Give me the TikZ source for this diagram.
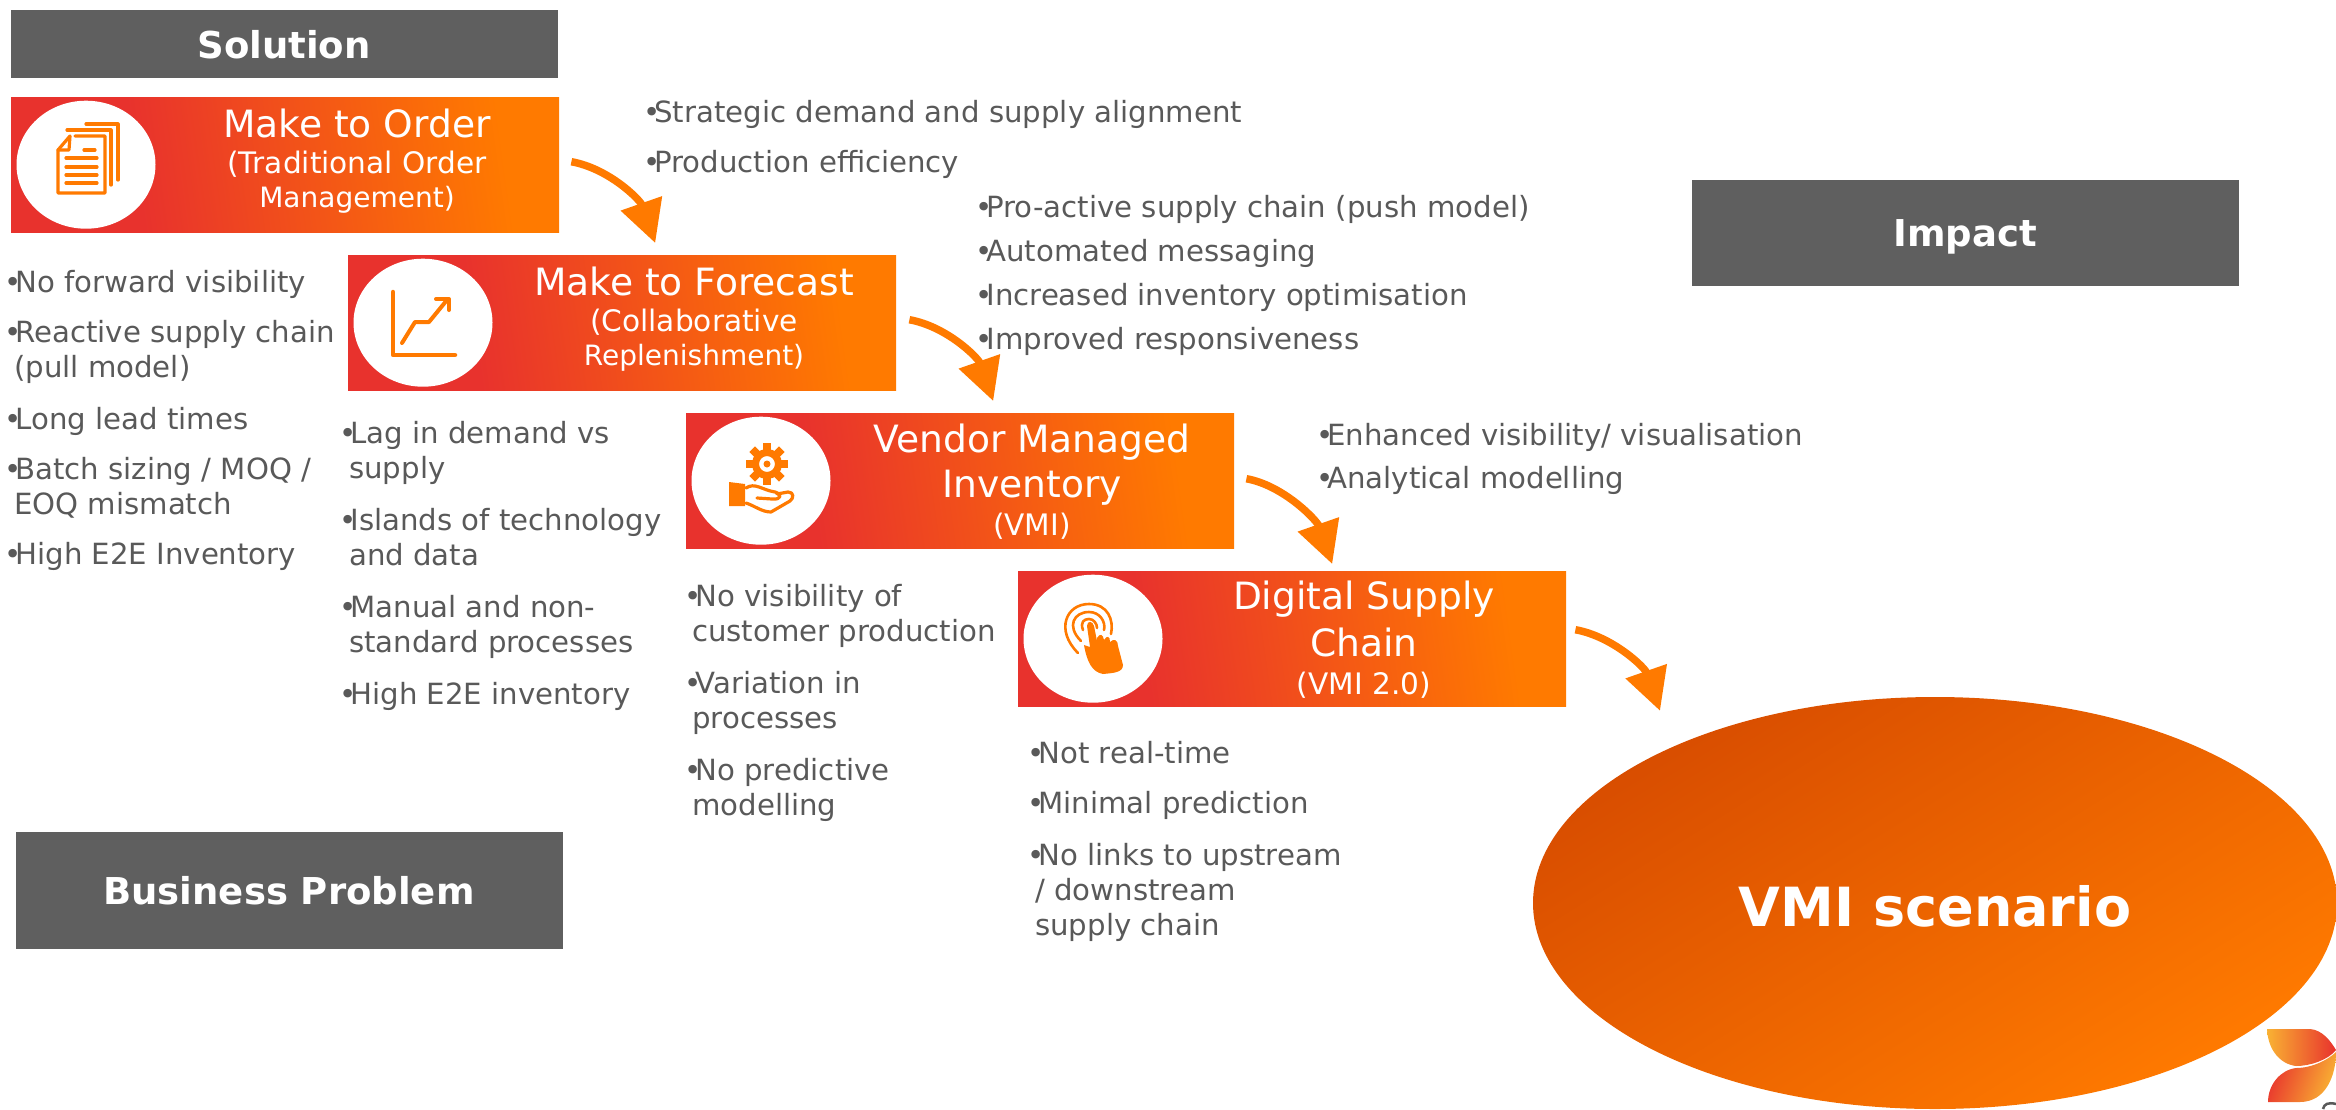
\documentclass[tikz,border=0pt]{standalone}
\usepackage{fontspec}
\setmainfont{DejaVu Sans}
\usetikzlibrary{arrows.meta,shapes.geometric}
\definecolor{vmired}{HTML}{E8322D}
\definecolor{vmiorange}{HTML}{FF7A00}
\definecolor{vmideep}{HTML}{D84D00}
\definecolor{bandgray}{HTML}{5F5F5F}
\definecolor{bodygray}{HTML}{595959}
\definecolor{logoyellow}{HTML}{F9B233}
\pgfdeclarehorizontalshading{stagefade}{100bp}{color(0bp)=(vmired); color(35bp)=(vmired); color(72bp)=(vmiorange); color(100bp)=(vmiorange)}
\newcommand{\bigline}{\fontsize{37.6}{34}\selectfont}
\newcommand{\subline}{\fontsize{29.6}{34}\selectfont}
\newcommand{\itemdot}{•\kern-6pt}
\tikzset{
  bandbox/.style = {shape=rectangle, fill=bandgray, text=white, font=\bfseries\fontsize{37}{44}\selectfont, minimum width=547pt, inner sep=0pt, text depth=0pt},
  stagebox/.style = {shape=rectangle, anchor=north west, shading=stagefade, shading angle=8, minimum width=548pt, minimum height=135pt, inner sep=0pt},
  stageicon/.style = {shape=ellipse, fill=white, minimum width=139pt, minimum height=128pt, inner sep=0pt},
  stagetitle/.style = {align=center, text=white, inner sep=0pt, font=\fontsize{28}{34}\selectfont},
  bulletlist/.style = {anchor=north west, align=left, text=bodygray, inner sep=0pt, font=\fontsize{29.2}{35}\selectfont},
  stagearrow/.style = {draw=vmiorange, line width=7.5pt, -{Triangle[width=42pt,length=42pt]}},
  iconline/.style = {draw=vmiorange, line width=3.2pt, line cap=round, line join=round}
}
\begin{document}
\begin{tikzpicture}[x=1pt,y=-1pt]
\useasboundingbox (0,0) rectangle (2336,1109);
\node[bandbox, minimum height=68pt] (solution) at (284,44) {Solution};
\node[bandbox, minimum height=106pt] (impact) at (1965,233) {Impact};
\node[bandbox, minimum height=117pt] (problem) at (289,890) {Business Problem};

\node[stagebox] (mto) at (11,97) {};
\node[stagebox] (mtf) at (348,255) {};
\node[stagebox] (vmi) at (686,413) {};
\node[stagebox] (dsc) at (1018,571) {};
\node[stageicon] (mtoicon) at ([xshift=75pt]mto.west) {};
\node[stageicon] (mtficon) at ([xshift=75pt]mtf.west) {};
\node[stageicon] (vmiicon) at ([xshift=75pt]vmi.west) {};
\node[stageicon] (dscicon) at ([xshift=75pt]dsc.west) {};
\node[stagetitle] (mtotitle) at ([xshift=346pt,yshift=4pt]mto.west) {\bigline Make to Order\\[2pt]\subline (Traditional Order\\Management)};
\node[stagetitle] (mtftitle) at ([xshift=346pt,yshift=4pt]mtf.west) {\bigline Make to Forecast\\[2pt]\subline (Collaborative\\Replenishment)};
\node[stagetitle] (vmititle) at ([xshift=346pt,yshift=-1pt]vmi.west) {\bigline Vendor Managed\\[9pt]\bigline Inventory\\[4pt]\subline (VMI)};
\node[stagetitle] (dsctitle) at ([xshift=346pt,yshift=-1pt]dsc.west) {\bigline Digital Supply\\[9pt]\bigline Chain\\[4pt]\subline (VMI 2.0)};

\node[shape=ellipse, minimum width=804pt, minimum height=412pt, inner sep=0pt, text=white, font=\bfseries\fontsize{54}{60}\selectfont, shading=axis, left color=vmideep, right color=vmiorange, shading angle=32] (scenario) at (1935,903) {\raisebox{-23pt}[0pt][0pt]{VMI scenario}};

\node[bulletlist] (strategy) at (643,100) {\itemdot Strategic demand and supply alignment\\[15pt]\itemdot Production efficiency};
\node[bulletlist] (proactive) at (975,195) {\itemdot Pro-active supply chain (push model)\\[9pt]\itemdot Automated messaging\\[9pt]\itemdot Increased inventory optimisation\\[9pt]\itemdot Improved responsiveness};
\node[bulletlist] (enhanced) at (1316,423) {\itemdot Enhanced visibility/ visualisation\\[8pt]\itemdot Analytical modelling};
\node[bulletlist] (mtolist) at (4,270) {\itemdot No forward visibility\\[15pt]\itemdot Reactive supply chain\\\hspace*{10pt}(pull model)\\[17pt]\itemdot Long lead times\\[15pt]\itemdot Batch sizing / MOQ /\\\hspace*{10pt}EOQ mismatch\\[15pt]\itemdot High E2E Inventory};
\node[bulletlist] (mtflist) at (339,421) {\itemdot Lag in demand vs\\\hspace*{10pt}supply\\[17pt]\itemdot Islands of technology\\\hspace*{10pt}and data\\[17pt]\itemdot Manual and non-\\\hspace*{10pt}standard processes\\[17pt]\itemdot High E2E inventory};
\node[bulletlist] (vmilist) at (684,584) {\itemdot No visibility of\\\hspace*{8pt}customer production\\[17pt]\itemdot Variation in\\\hspace*{8pt}processes\\[17pt]\itemdot No predictive\\\hspace*{8pt}modelling};
\node[bulletlist] (dsclist) at (1027,741) {\itemdot Not real-time\\[15pt]\itemdot Minimal prediction\\[17pt]\itemdot No links to upstream\\\hspace*{8pt}/ downstream\\\hspace*{8pt}supply chain};

\coordinate (mtftip) at ([xshift=33pt,yshift=12pt]mtf.north);
\coordinate (vmitip) at ([xshift=33pt,yshift=12pt]vmi.north);
\coordinate (dsctip) at ([xshift=40pt,yshift=7pt]dsc.north);
\coordinate (scenariotip) at ([xshift=-275pt,yshift=-14pt]scenario.north);
\foreach \src/\startx/\starty/\tip in {mto/12/-3/mtftip,mtf/13/-3/vmitip,vmi/12/-2/dsctip,dsc/9/-9/scenariotip}
  \draw[stagearrow] ([shift={(\startx,\starty)}]\src.east) .. controls +(38,7) and +(-15,-43) .. (\tip);

\draw[iconline] (75,136) -- (93,136) -- (105,136) -- (105,193) -- (58,193) -- (58,150) -- (70,136);
\draw[iconline] (58,150) -- (69,150) -- (70,136);
\draw[iconline] (67,130) -- (111,130) -- (111,185);
\draw[iconline] (86,124) -- (118,124) -- (118,180);
\foreach \rulerow in {158,167,175,183}
  \draw[iconline] (66,\rulerow) -- (97,\rulerow);
\draw[iconline] (84,150) -- (95,150);

\draw[iconline, line width=4.5pt] (393,292) -- (393,355) -- (455,355);
\draw[iconline, line width=4pt] (402,343) -- (415,322) -- (429,322) -- (447,300);
\draw[iconline, line width=4pt] (436,299) -- (449,299) -- (449,310);

\foreach \toothangle in {0,45,...,315}
  \fill[vmiorange, shift={(767,464)}, rotate=\toothangle] (-4,-21) rectangle (4,-12);
\draw[vmiorange, line width=7pt] (767,464) circle (11.5pt);
\fill[vmiorange] (767,464) circle (3.5pt);
\fill[vmiorange] (729,482) -- (745,484) -- (745,506) -- (729,506) -- cycle;
\draw[iconline] (746,488) .. controls (755,482) and (762,490) .. (775,492) .. controls (782,494) and (782,500) .. (772,499) -- (757,498);
\draw[iconline] (777,494) -- (788,492) .. controls (794,492) and (794,498) .. (790,501) -- (771,512) .. controls (762,512) and (755,506) .. (746,503);

\draw[iconline, line width=2.6pt] (1078,653) .. controls (1055,630) and (1066,604) .. (1089,604) .. controls (1108,604) and (1114,620) .. (1111,634);
\draw[iconline, line width=2.6pt] (1081,641) .. controls (1066,626) and (1074,612) .. (1089,612) .. controls (1100,612) and (1106,622) .. (1104,630);
\draw[iconline, line width=2.6pt] (1083,630) .. controls (1080,622) and (1084,619) .. (1089,619) .. controls (1094,619) and (1097,624) .. (1097,628);
\fill[vmiorange] (1084,645) -- (1090,647) -- (1087,626) .. controls (1087,620) and (1093,621) .. (1094,626) -- (1097,641) -- (1097,638) .. controls (1100,633) and (1103,634) .. (1104,640) .. controls (1107,635) and (1110,636) .. (1110,642) .. controls (1114,638) and (1118,640) .. (1118,646) -- (1123,665) .. controls (1123,673) and (1112,673) .. (1103,674) .. controls (1092,672) and (1087,662) .. (1084,645) -- cycle;

\shade[left color=logoyellow, right color=vmired] (2267,1029) -- (2310,1029) .. controls (2322,1030) and (2330,1040) .. (2336,1050) .. controls (2328,1060) and (2310,1066) .. (2296,1066) .. controls (2280,1064) and (2268,1050) .. (2267,1029) -- cycle;
\shade[left color=vmired, right color=logoyellow, shading angle=70] (2268,1102) .. controls (2268,1085) and (2280,1070) .. (2296,1068) .. controls (2312,1068) and (2328,1060) .. (2336,1052) .. controls (2336,1075) and (2326,1102) .. (2300,1102) -- cycle;
\draw[bodygray, line width=2.5pt] (2336,1104) .. controls (2328,1102) and (2324,1104) .. (2323,1109);
\end{tikzpicture}
\end{document}
